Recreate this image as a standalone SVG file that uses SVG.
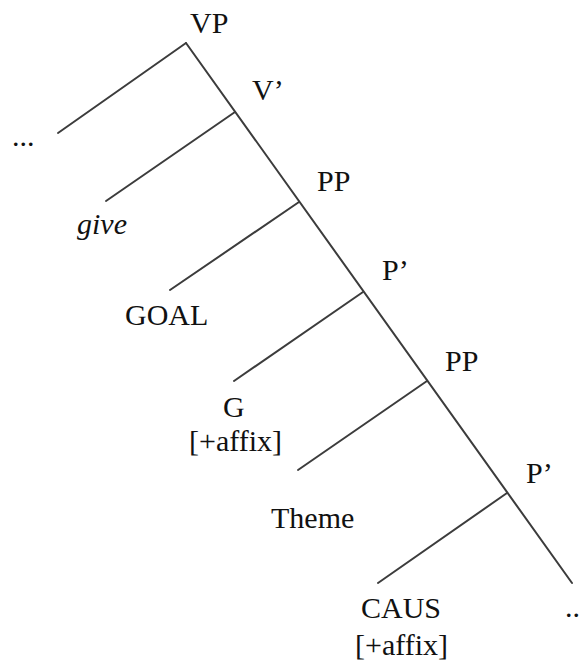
<svg xmlns="http://www.w3.org/2000/svg" width="583" height="661" viewBox="0 0 583 661">
<style>
.e{stroke:#3c3c3c;stroke-width:2;fill:none;stroke-linecap:round}
.t{font-family:'Liberation Serif','DejaVu Serif','Noto Serif',serif;font-size:30px;fill:#111}
.i{font-style:italic}
</style>
<rect width="583" height="661" fill="#fff"/>
<g id="connectors">
<line class="e" x1="186" y1="43" x2="572" y2="583"/>
<line class="e" x1="186" y1="43" x2="58" y2="133"/>
<line class="e" x1="235" y1="112" x2="106" y2="201"/>
<line class="e" x1="299" y1="202" x2="170" y2="290"/>
<line class="e" x1="363" y1="292" x2="234" y2="381"/>
<line class="e" x1="427" y1="381" x2="298" y2="470"/>
<line class="e" x1="507" y1="493" x2="378" y2="583"/>
</g>
<g id="n-vp"><text class="t" x="190" y="33">VP</text></g>
<g id="n-vbar"><text class="t" x="252" y="100">V’</text></g>
<g id="n-dots-left"><text class="t" x="12" y="146">...</text></g>
<g id="n-give"><text class="t i" x="77" y="234">give</text></g>
<g id="n-pp1"><text class="t" x="317" y="191">PP</text></g>
<g id="n-goal"><text class="t" x="125" y="325">GOAL</text></g>
<g id="n-pbar1"><text class="t" x="382" y="280">P’</text></g>
<g id="n-g"><text class="t" x="223" y="417">G</text><text class="t" x="189" y="451">[+affix]</text></g>
<g id="n-pp2"><text class="t" x="445" y="371">PP</text></g>
<g id="n-theme"><text class="t" x="271" y="528">Theme</text></g>
<g id="n-pbar2"><text class="t" x="526" y="483">P’</text></g>
<g id="n-caus"><text class="t" x="361" y="618">CAUS</text><text class="t" x="355" y="655">[+affix]</text></g>
<g id="n-dots-right"><text class="t" x="565" y="617">..</text></g>
</svg>
